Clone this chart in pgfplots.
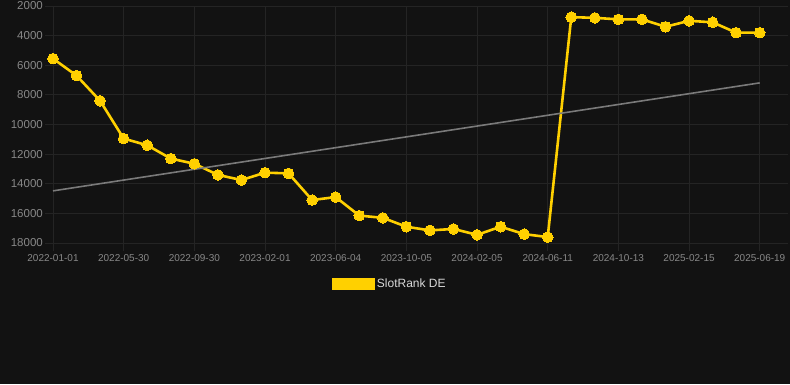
\documentclass[border=0pt]{standalone}
\usepackage{pgfplots}
\pgfplotsset{compat=1.18}
\usepackage{fontspec}
\setmainfont{Liberation Sans}
\definecolor{bg}{HTML}{121212}
\definecolor{gridc}{HTML}{242424}
\definecolor{tickc}{HTML}{888888}
\definecolor{gold}{HTML}{FFD000}
\definecolor{trend}{HTML}{7A7A7A}
\begin{document}
\begin{tikzpicture}[x=1pt,y=1pt]
\fill[bg] (0,0) rectangle (790,384);
\begin{axis}[
  at={(53pt,141pt)}, anchor=south west,
  scale only axis, width=735pt, height=237pt,
  xmin=0, xmax=31.2, ymin=2000, ymax=18000,
  y dir=reverse,
  clip=false,
  scaled ticks=false,
  axis line style={draw=none},
  grid=major, grid style={gridc, line width=0.8pt},
  tick align=outside, major tick length=8pt,
  tick style={gridc, line width=0.8pt},
  xtick pos=left, ytick pos=left,
  xtick={0,3,...,30},
  xticklabels={2022-01-01,2022-05-30,2022-09-30,2023-02-01,2023-06-04,2023-10-05,2024-02-05,2024-06-11,2024-10-13,2025-02-15,2025-06-19},
  ytick={2000,4000,...,18000},
  yticklabel={\pgfmathprintnumber[fixed,precision=0,1000 sep={}]{\tick}},
  /pgf/number format/1000 sep={},
  /pgf/number format/assume math mode=true,
  xticklabel style={font=\fontsize{10}{12}\selectfont, text=tickc, inner sep=0pt, yshift=-3pt},
  yticklabel style={font=\fontsize{11.5}{13}\selectfont, text=tickc, inner sep=0pt, xshift=-2pt},
  legend style={at={(0.4585,-0.173)}, anchor=center, draw=none, fill=none,
    text=white!85!black, font=\fontsize{12}{14}\selectfont},
  legend image code/.code={\fill[gold] (0pt,-5pt) rectangle (40pt,5pt);},
]
\addplot[gold, line width=2.6pt, mark=*, mark size=5.3pt, mark options={fill=gold, draw=gold, line width=0pt}] coordinates {
(0,5550) (1,6700) (2,8400) (3,10950) (4,11400) (5,12300) (6,12650) (7,13400) (8,13750) (9,13250) (10,13300) (11,15100) (12,14900) (13,16150) (14,16300) (15,16900) (16,17150) (17,17050) (18,17450) (19,16900) (20,17400) (21,17600) (22,2750) (23,2800) (24,2900) (25,2900) (26,3400) (27,3000) (28,3100) (29,3800) (30,3800)
};
\addlegendentry{SlotRank DE}
\addplot[trend, line width=1.6pt, forget plot] coordinates {(0,14480) (30,7190)};
\end{axis}
\pgfresetboundingbox
\path (0,0) rectangle (790,384);
\end{tikzpicture}
\end{document}
